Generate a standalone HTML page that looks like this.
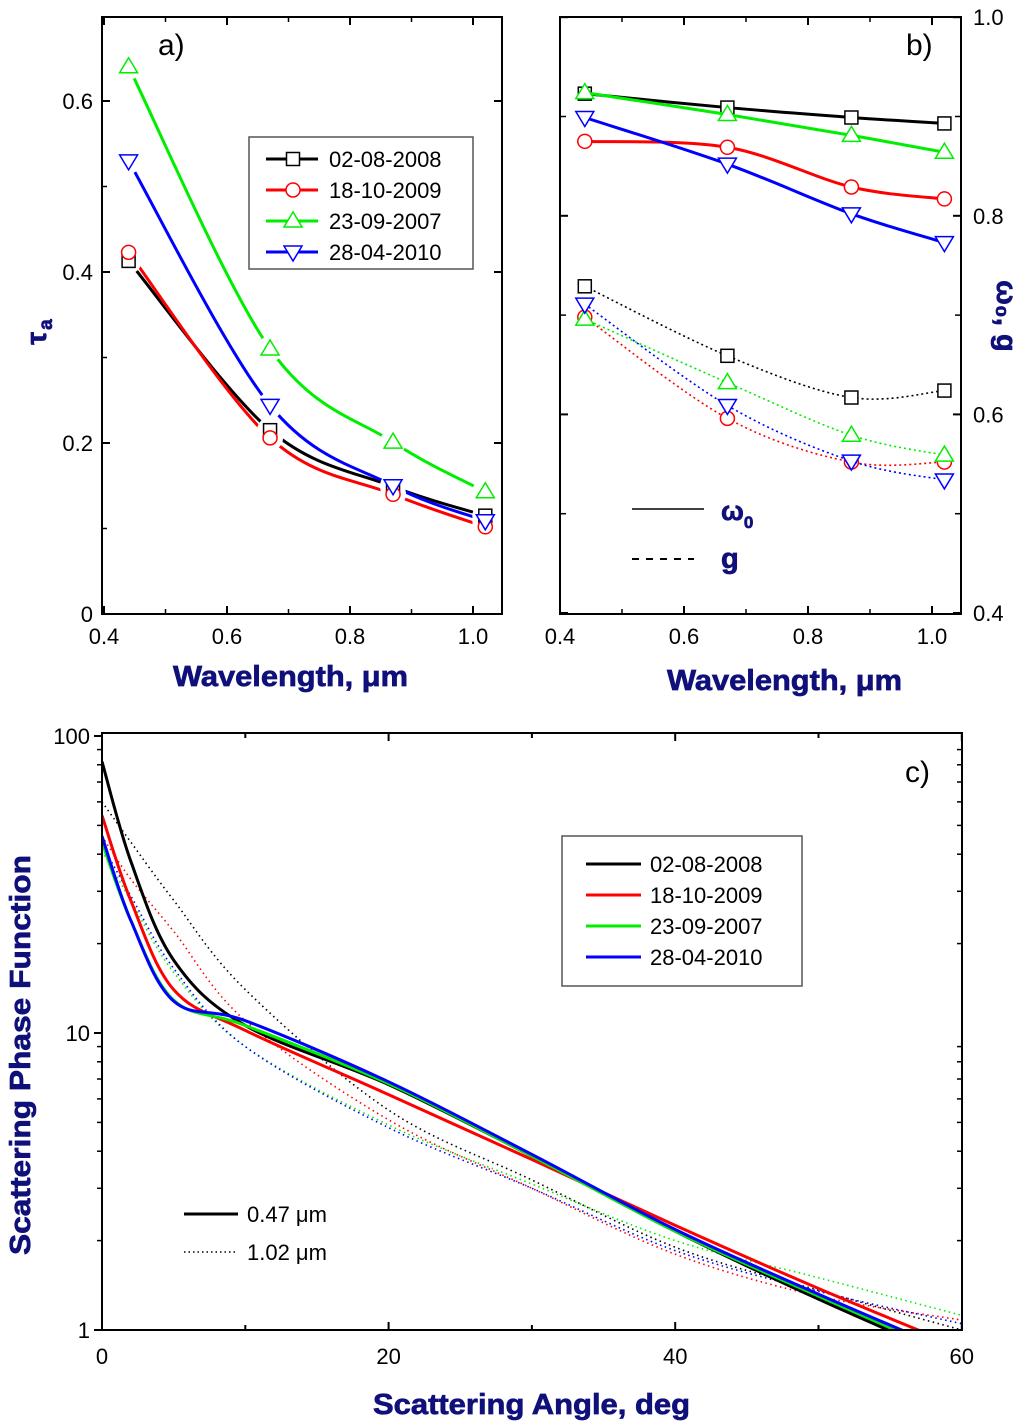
<!DOCTYPE html>
<html><head><meta charset="utf-8"><style>
body{margin:0;background:#fff}
svg{display:block;font-family:"Liberation Sans",Arial,sans-serif}
.t{font-size:22px;fill:#000}
.ax{font-size:29px;font-weight:bold;fill:#10107a;stroke:#10107a;stroke-width:0.7}
</style></head><body>
<svg id="s" width="1024" height="1424" viewBox="0 0 1024 1424" xmlns="http://www.w3.org/2000/svg"></svg>
<script>
const wl=[0.44,0.67,0.87,1.02];
const seriesNames=["02-08-2008","18-10-2009","23-09-2007","28-04-2010"];
const colors=["#000","#f00","#0e0","#00f"];
const tauBlack=[0.413,0.215,0.149,0.115];
const tauRed=[0.423,0.206,0.140,0.102];
const tauGreen=[0.640,0.310,0.201,0.143];
const tauBlue=[0.530,0.244,0.150,0.109];
const w0Black=[0.923,0.909,0.899,0.893];
const w0Red=[0.875,0.869,0.829,0.817];
const w0Green=[0.924,0.902,0.881,0.864];
const w0Blue=[0.899,0.852,0.802,0.773];
const gBlack=[0.729,0.659,0.617,0.624];
const gRed=[0.698,0.596,0.552,0.552];
const gGreen=[0.696,0.632,0.579,0.559];
const gBlue=[0.711,0.609,0.553,0.534];
const angles=[0,2,5,10,20,30,40,50,60];
const pfBlack047=[82,38,17.6,10.6,6.7,3.85,2.15,1.27,0.78];
const pfRed047=[54,28,14,10.2,6.2,3.75,2.25,1.38,0.87];
const pfGreen047=[44,24,12.9,10.6,6.75,3.85,2.15,1.3,0.8];
const pfBlue047=[46,24,12.8,11,6.85,3.9,2.18,1.32,0.82];
const pfBlack102=[60,44,28,14,5.5,3.2,1.9,1.36,1.0];
const pfRed102=[46,33,22,11,5.1,3.0,1.8,1.3,1.08];
const pfGreen102=[41,28,16,9,4.9,3.1,2.0,1.5,1.12];
const pfBlue102=[43,29,16.5,9,4.8,3.0,1.85,1.35,1.05];
const xTicksA=["0.4","0.6","0.8","1.0"];
const yTicksA=["0","0.2","0.4","0.6"];
const yTicksB=["0.4","0.6","0.8","1.0"];

const S=document.getElementById('s');
const NS="http://www.w3.org/2000/svg";
function mk(tag,attrs,parent,txt){const e=document.createElementNS(NS,tag);for(const k in attrs)e.setAttribute(k,attrs[k]);if(txt!==undefined)e.textContent=txt;(parent||S).appendChild(e);return e;}
function spline(pts){let d="M"+pts[0][0]+","+pts[0][1];for(let i=0;i<pts.length-1;i++){const p0=pts[Math.max(0,i-1)],p1=pts[i],p2=pts[i+1],p3=pts[Math.min(pts.length-1,i+2)];const c1=[p1[0]+(p2[0]-p0[0])/6,p1[1]+(p2[1]-p0[1])/6],c2=[p2[0]-(p3[0]-p1[0])/6,p2[1]-(p3[1]-p1[1])/6];d+=" C"+c1+" "+c2+" "+p2;}return d;}
function marker(g,type,x,y,c){let e;
 if(type==0)e=mk('rect',{x:x-6.5,y:y-6.5,width:13,height:13},g);
 else if(type==1)e=mk('circle',{cx:x,cy:y,r:7},g);
 else if(type==2)e=mk('polygon',{points:`${x},${y-9} ${x-9},${y+6} ${x+9},${y+6}`},g);
 else e=mk('polygon',{points:`${x},${y+9} ${x-9},${y-6} ${x+9},${y-6}`},g);
 e.setAttribute('fill','#fff');e.setAttribute('stroke',c);e.setAttribute('stroke-width','1.5');return e;}

// Panel a
const ax=v=>104+(v-0.4)*615, ay=v=>614-v*855;
const pa=mk('g',{});
const tauSets=[tauBlack,tauRed,tauGreen,tauBlue];
tauSets.forEach((s,i)=>{
 const pts=wl.map((w,j)=>[ax(w),ay(s[j])]);
 const p=mk('path',{d:spline(pts),fill:'none',stroke:colors[i],'stroke-width':3},pa);
 
});
tauSets.forEach((s,i)=>{wl.forEach((w,j)=>{mk('circle',{cx:ax(w),cy:ay(s[j]),r:13,fill:'#fff'},pa);});});
tauSets.forEach((s,i)=>{wl.forEach((w,j)=>{const m=marker(pa,i,ax(w),ay(s[j]),colors[i]);});});
mk('rect',{x:102,y:17,width:400,height:597,fill:'none',stroke:'#000','stroke-width':2},pa);
xTicksA.forEach(t=>{const x=ax(+t);mk('line',{x1:x,y1:614,x2:x,y2:606,stroke:'#000','stroke-width':2},pa);mk('line',{x1:x,y1:17,x2:x,y2:25,stroke:'#000','stroke-width':2},pa);const e=mk('text',{x:x,y:644,'text-anchor':'middle',class:'t'},pa,t);});
[0.5,0.7,0.9].forEach(v=>{const x=ax(v);mk('line',{x1:x,y1:614,x2:x,y2:609,stroke:'#000','stroke-width':1.5},pa);mk('line',{x1:x,y1:17,x2:x,y2:22,stroke:'#000','stroke-width':1.5},pa);});
yTicksA.forEach(t=>{const y=ay(+t);mk('line',{x1:102,y1:y,x2:110,y2:y,stroke:'#000','stroke-width':2},pa);mk('line',{x1:502,y1:y,x2:494,y2:y,stroke:'#000','stroke-width':2},pa);const e=mk('text',{x:93,y:y+8,'text-anchor':'end',class:'t'},pa,t);});
[0.1,0.3,0.5].forEach(v=>{const y=ay(v);mk('line',{x1:102,y1:y,x2:107,y2:y,stroke:'#000','stroke-width':1.5},pa);});
mk('text',{x:158,y:55,style:'font-size:30px'},pa,'a)');
let e=mk('text',{x:173,y:686,class:'ax',textLength:235,lengthAdjust:'spacingAndGlyphs'},pa,'Wavelength, μm');
e=mk('text',{transform:'translate(46,332) rotate(-90)','text-anchor':'middle',class:'ax'},pa);e.innerHTML='τ<tspan font-size="19" dy="6" dx="2">a</tspan>';
const lg=mk('g',{},pa);
mk('rect',{x:249,y:137,width:224,height:132,fill:'#fff',stroke:'#555','stroke-width':1.5},lg);
seriesNames.forEach((n,i)=>{const y=159+i*31;mk('line',{x1:266,y1:y,x2:318,y2:y,stroke:colors[i],'stroke-width':3},lg);marker(lg,i,293,y,colors[i]);const t=mk('text',{x:329,y:y+8,class:'t',style:'font-size:22px'},lg,n);});

// Panel b
const bx=v=>560+(v-0.4)*620, by=v=>613-(v-0.4)*993;
const pb=mk('g',{});
[gBlack,gRed,gGreen,gBlue].forEach((s,i)=>{
 const pts=wl.map((w,j)=>[bx(w),by(s[j])]);
 const p=mk('path',{d:spline(pts),fill:'none',stroke:colors[i],'stroke-width':1.6,'stroke-dasharray':'2 3'},pb);
 
 pts.forEach(q=>{const m=marker(pb,i,q[0],q[1],colors[i]);});
});
[w0Black,w0Red,w0Green,w0Blue].forEach((s,i)=>{
 const pts=wl.map((w,j)=>[bx(w),by(s[j])]);
 const p=mk('path',{d:spline(pts),fill:'none',stroke:colors[i],'stroke-width':3},pb);
 
 pts.forEach(q=>{const m=marker(pb,i,q[0],q[1],colors[i]);});
});
mk('rect',{x:560,y:17,width:401,height:597,fill:'none',stroke:'#000','stroke-width':2},pb);
xTicksA.forEach(t=>{const x=bx(+t);mk('line',{x1:x,y1:614,x2:x,y2:606,stroke:'#000','stroke-width':2},pb);mk('line',{x1:x,y1:17,x2:x,y2:25,stroke:'#000','stroke-width':2},pb);const e=mk('text',{x:x,y:644,'text-anchor':'middle',class:'t'},pb,t);});
[0.5,0.7,0.9].forEach(v=>{const x=bx(v);mk('line',{x1:x,y1:614,x2:x,y2:609,stroke:'#000','stroke-width':1.5},pb);mk('line',{x1:x,y1:17,x2:x,y2:22,stroke:'#000','stroke-width':1.5},pb);});
yTicksB.forEach(t=>{const y=by(+t);mk('line',{x1:560,y1:y,x2:568,y2:y,stroke:'#000','stroke-width':2},pb);mk('line',{x1:961,y1:y,x2:953,y2:y,stroke:'#000','stroke-width':2},pb);const e=mk('text',{x:973,y:y+8,class:'t'},pb,t);});
[0.5,0.7,0.9].forEach(v=>{const y=by(v);mk('line',{x1:560,y1:y,x2:566,y2:y,stroke:'#000','stroke-width':1.5},pb);mk('line',{x1:961,y1:y,x2:955,y2:y,stroke:'#000','stroke-width':1.5},pb);});
mk('text',{x:906,y:55,style:'font-size:30px'},pb,'b)');
e=mk('text',{x:667,y:690,class:'ax',textLength:235,lengthAdjust:'spacingAndGlyphs'},pb,'Wavelength, μm');
e=mk('text',{transform:'translate(997,316) rotate(90)','text-anchor':'middle',class:'ax'},pb,'ω₀, g');
mk('line',{x1:632,y1:509,x2:704,y2:509,stroke:'#000','stroke-width':1.5},pb);
mk('line',{x1:632,y1:559,x2:694,y2:559,stroke:'#000','stroke-width':2,'stroke-dasharray':'7 7'},pb);
mk('text',{x:721,y:520,class:'ax',style:'font-size:27px'},pb).innerHTML='ω<tspan font-size="17" dy="8">0</tspan>';
mk('text',{x:721,y:568,class:'ax',style:'font-size:29px'},pb,'g');

// Panel c
const cx=v=>102+v*14.33, cy=v=>1330-297*Math.log10(v);
const pc=mk('g',{});
mk('clipPath',{id:'cc'},pc).appendChild(document.createElementNS(NS,'rect'));
const cr=pc.querySelector('#cc rect');cr.setAttribute('x',102);cr.setAttribute('y',733);cr.setAttribute('width',860);cr.setAttribute('height',597);
const cg=mk('g',{'clip-path':'url(#cc)'},pc);
[pfBlack102,pfRed102,pfGreen102,pfBlue102].forEach((s,i)=>{const p=mk('path',{d:spline(angles.map((a,j)=>[cx(a),cy(s[j])])),fill:'none',stroke:colors[i],'stroke-width':1.6,'stroke-dasharray':'1.5 3.5'},cg);});
[pfBlack047,pfRed047,pfGreen047,pfBlue047].forEach((s,i)=>{const p=mk('path',{d:spline(angles.map((a,j)=>[cx(a),cy(s[j])])),fill:'none',stroke:colors[i],'stroke-width':3},cg);});
mk('rect',{x:102,y:733,width:860,height:597,fill:'none',stroke:'#000','stroke-width':2},pc);
[0,10,20,30,40,50,60].forEach(a=>{const x=cx(a),L=a%20==0?8:5;mk('line',{x1:x,y1:1330,x2:x,y2:1330-L,stroke:'#000','stroke-width':2},pc);mk('line',{x1:x,y1:733,x2:x,y2:733+L,stroke:'#000','stroke-width':2},pc);if(a%20==0){const e=mk('text',{x:x,y:1364,'text-anchor':'middle',class:'t'},pc,String(a));}});
[1,10,100].forEach(v=>{const y=cy(v);mk('line',{x1:94,y1:y,x2:102,y2:y,stroke:'#000','stroke-width':2},pc);const e=mk('text',{x:90,y:y+8,'text-anchor':'end',class:'t'},pc,String(v));});
[1,10].forEach(d=>{for(let k=2;k<10;k++){const y=cy(d*k);mk('line',{x1:97,y1:y,x2:102,y2:y,stroke:'#000','stroke-width':1.5},pc);mk('line',{x1:962,y1:y,x2:957,y2:y,stroke:'#000','stroke-width':1.5},pc);}});
mk('text',{x:905,y:782,style:'font-size:30px'},pc,'c)');
e=mk('text',{x:373,y:1414,class:'ax',textLength:317,lengthAdjust:'spacingAndGlyphs'},pc,'Scattering Angle, deg');
e=mk('text',{transform:'translate(30,1255) rotate(-90)',class:'ax',textLength:400,lengthAdjust:'spacingAndGlyphs'},pc,'Scattering Phase Function');
const lc=mk('g',{},pc);
mk('rect',{x:562,y:836,width:240,height:150,fill:'#fff',stroke:'#555','stroke-width':1.5},lc);
seriesNames.forEach((n,i)=>{const y=864+i*31;mk('line',{x1:586,y1:y,x2:641,y2:y,stroke:colors[i],'stroke-width':3},lc);const t=mk('text',{x:650,y:y+8,class:'t',style:'font-size:22px'},lc,n);});
mk('line',{x1:184,y1:1214,x2:238,y2:1214,stroke:'#000','stroke-width':3},pc);
mk('line',{x1:184,y1:1252,x2:238,y2:1252,stroke:'#000','stroke-width':1.5,'stroke-dasharray':'1.5 3'},pc);
mk('text',{x:247,y:1222,class:'t',style:'font-size:22px'},pc,'0.47 μm');
mk('text',{x:247,y:1260,class:'t',style:'font-size:22px'},pc,'1.02 μm');
</script>
</body></html>
